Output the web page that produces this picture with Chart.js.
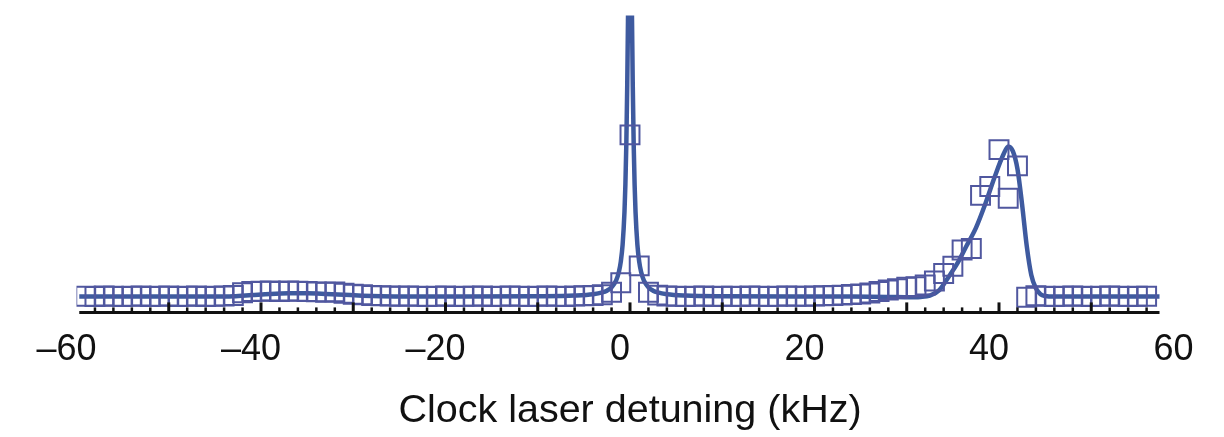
<!DOCTYPE html>
<html>
<head>
<meta charset="utf-8">
<script src="https://cdn.jsdelivr.net/npm/chart.js@4/dist/chart.umd.min.js"></script>
<style>
  html, body { margin: 0; padding: 0; background: #fff; }
  #wrap { width: 1224px; height: 437px; }
</style>
</head>
<body>
<div id="wrap"><canvas id="spectrum"></canvas></div>
<script>
// measured points (kHz, arb. units)
const detuning = [
  -59, -58, -57, -56, -55, -54, -53, -52, -51, -50, -49, -48, -47, -46, -45, -44, -43, -42, -41, -40,
  -39, -38, -37, -36, -35, -34, -33, -32, -31, -30, -29, -28, -27, -26, -25, -24, -23, -22, -21, -20,
  -19, -18, -17, -16, -15, -14, -13, -12, -11, -10, -9, -8, -7, -6, -5, -4, -3, -2, -1, 0,
  1, 2, 3, 4, 5, 6, 7, 8, 9, 10, 11, 12, 13, 14, 15, 16, 17, 18, 19, 20,
  21, 22, 23, 24, 25, 26, 27, 28, 29, 30, 31, 32, 33, 34, 35, 36, 37, 38, 39, 40,
  41, 42, 43, 44, 45, 46, 47, 48, 49, 50, 51, 52, 53, 54, 55, 56
];
const signal = [
  0.048, 0.047, 0.049, 0.048, 0.047, 0.048, 0.049, 0.047, 0.048, 0.049, 0.047, 0.048, 0.049, 0.047, 0.048, 0.049, 0.051, 0.060, 0.064, 0.065,
  0.066, 0.064, 0.066, 0.065, 0.064, 0.063, 0.062, 0.063, 0.058, 0.055, 0.053, 0.051, 0.050, 0.049, 0.048, 0.049, 0.048, 0.047, 0.048, 0.049,
  0.047, 0.048, 0.048, 0.049, 0.047, 0.048, 0.049, 0.048, 0.047, 0.048, 0.049, 0.048, 0.047, 0.049, 0.050, 0.051, 0.053, 0.062, 0.094, 0.595,
  0.151, 0.062, 0.052, 0.049, 0.048, 0.047, 0.048, 0.049, 0.047, 0.048, 0.048, 0.047, 0.049, 0.048, 0.047, 0.048, 0.049, 0.048, 0.048, 0.049,
  0.050, 0.051, 0.052, 0.054, 0.056, 0.059, 0.064, 0.069, 0.074, 0.079, 0.080, 0.086, 0.100, 0.125, 0.150, 0.205, 0.210, 0.390, 0.420, 0.545,
  0.380, 0.490, 0.045, 0.050, 0.048, 0.047, 0.048, 0.049, 0.048, 0.047, 0.048, 0.049, 0.048, 0.047, 0.048, 0.048
];

// fitted curve
const fitX = [
  -59.7, -50, -45, -43, -41, -39, -37, -35, -33, -31, -29, -27, -24, -18, -10, -6, -4, -3, -2.5, -2,
  -1.5, -1.2, -1, -0.8, -0.6, -0.5, -0.4, -0.3, -0.2, -0.1, 0, 0.1, 0.2, 0.3, 0.4, 0.5, 0.6, 0.8, 1, 1.2,
  1.5, 2, 2.5, 3, 4, 6, 10, 18, 24, 28, 30, 31.5, 32.5, 33.5, 34.5, 35.5, 36.5, 37.5, 38.5, 39.5,
  40.5, 41, 41.5, 42, 42.5, 43, 43.5, 44, 44.5, 45, 46, 50, 57.4
];
const fitY = [
  0.047, 0.047, 0.047, 0.048, 0.052, 0.056, 0.058, 0.058, 0.056, 0.053, 0.050, 0.048, 0.047, 0.047, 0.048, 0.0506, 0.055, 0.061, 0.067, 0.0785,
  0.102, 0.131, 0.165, 0.223, 0.333, 0.426, 0.562, 0.762, 1.037, 1.334, 1.477, 1.334, 1.037, 0.762, 0.562, 0.426, 0.333, 0.223, 0.165, 0.131,
  0.102, 0.0785, 0.067, 0.061, 0.055, 0.0506, 0.048, 0.047, 0.047, 0.046, 0.045, 0.046, 0.050, 0.068, 0.112, 0.160, 0.220, 0.280, 0.360, 0.450,
  0.530, 0.556, 0.540, 0.480, 0.360, 0.220, 0.120, 0.075, 0.055, 0.049, 0.047, 0.047, 0.047
];

const xTickValues = [-60, -40, -20, 0, 20, 40, 60];
const axisRange = [-59.7, 57.4];

const FONT = "'Liberation Sans', Arial, Helvetica, sans-serif";

// axis line with inward ticks, like the original frame
const axisPlugin = {
  id: "axisLine",
  afterDatasetsDraw(chart) {
    const { ctx, chartArea, scales } = chart;
    const x = scales.x;
    const y0 = chartArea.bottom;
    ctx.save();
    ctx.strokeStyle = "#111";
    ctx.lineWidth = 3;
    ctx.beginPath();
    ctx.moveTo(x.getPixelForValue(axisRange[0]), y0);
    ctx.lineTo(x.getPixelForValue(axisRange[1]), y0);
    ctx.stroke();
    for (let v = -58; v <= 56; v += 2) {
      const major = v % 10 === 0;
      const px = x.getPixelForValue(v);
      ctx.lineWidth = major ? 3 : 2.5;
      ctx.beginPath();
      ctx.moveTo(px, y0);
      ctx.lineTo(px, y0 - (major ? 10 : 5));
      ctx.stroke();
    }
    ctx.restore();
  }
};

new Chart(document.getElementById("spectrum"), {
  type: "line",
  data: {
    datasets: [
      {
        label: "data",
        data: detuning.map((d, i) => ({ x: d, y: signal[i] })),
        showLine: false,
        pointStyle: "rect",
        pointRadius: 13.4,
        pointBorderWidth: 2,
        pointBackgroundColor: "rgba(0,0,0,0)",
        pointBorderColor: "#50579f",
        clip: 0
      },
      {
        label: "fit",
        data: fitX.map((d, i) => ({ x: d, y: fitY[i] })),
        borderColor: "#3e5a9f",
        borderWidth: 4.5,
        pointRadius: 0,
        cubicInterpolationMode: "monotone",
        fill: false,
        clip: 0
      }
    ]
  },
  options: {
    responsive: true,
    maintainAspectRatio: false,
    animation: false,
    events: [],
    layout: { padding: { left: 76.5, right: 40.5, top: 7, bottom: 0 } },
    plugins: {
      legend: { display: false },
      tooltip: { enabled: false }
    },
    scales: {
      x: {
        type: "linear",
        min: -60,
        max: 60,
        afterBuildTicks: (scale) => { scale.ticks = xTickValues.map(v => ({ value: v })); },
        grid: { display: false, drawTicks: false },
        border: { display: false },
        ticks: {
          padding: 16,
          labelOffset: -10,
          color: "#111",
          font: { family: FONT, size: 36 },
          maxRotation: 0,
          callback: (v) => (v < 0 ? "\u2013" + Math.abs(v) : String(v))
        },
        title: {
          display: true,
          text: "Clock laser detuning (kHz)",
          color: "#111",
          font: { family: FONT, size: 39.5 },
          padding: { top: 0, bottom: 2 }
        }
      },
      y: {
        display: false,
        min: -0.0066,
        max: 1.0
      }
    }
  },
  plugins: [axisPlugin]
});
</script>
</body>
</html>
